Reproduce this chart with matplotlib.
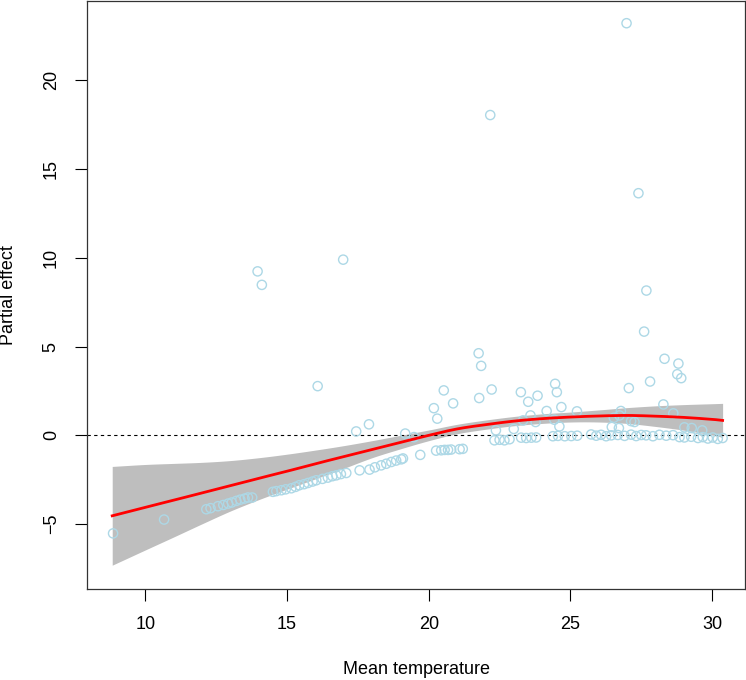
import numpy as np
import matplotlib
matplotlib.use('Agg')
import matplotlib.pyplot as plt

matplotlib.rcParams['font.family'] = ['Liberation Sans', 'DejaVu Sans']

# smooth fit and its confidence band
fit_x = [8.83, 10, 11, 12, 13, 14, 15, 16, 17, 18, 19, 20, 21, 22, 23, 24, 25, 26, 27, 28, 29, 30, 30.37]
fit_y = [-4.53, -4.05, -3.65, -3.24, -2.83, -2.42, -2.02, -1.60, -1.20, -0.80, -0.40, 0.00,
         0.36, 0.60, 0.80, 0.94, 1.03, 1.09, 1.12, 1.08, 1.01, 0.90, 0.84]
band_upper = [-1.75, -1.64, -1.58, -1.52, -1.42, -1.26, -1.06, -0.83, -0.58, -0.30, 0.00, 0.30,
              0.62, 0.86, 1.06, 1.21, 1.31, 1.43, 1.56, 1.66, 1.73, 1.78, 1.80]
band_lower = [-7.31, -6.45, -5.72, -4.98, -4.26, -3.62, -3.03, -2.45, -1.86, -1.26, -0.76, -0.30,
              0.09, 0.34, 0.54, 0.67, 0.75, 0.75, 0.67, 0.50, 0.29, 0.02, -0.12]

# partial residuals
outlier_x = [26.98, 22.17, 27.4, 27.68, 27.6, 13.96, 14.11, 16.98, 16.08]
outlier_y = [23.2, 18.03, 13.63, 8.15, 5.84, 9.23, 8.47, 9.89, 2.77]

mid_x = [21.76, 21.85, 20.53, 20.18, 20.3, 20.86, 21.78, 22.22, 23.25, 23.51, 23.84, 24.46, 24.52,
         24.68, 25.23, 24.16, 23.59, 23.33, 23.77, 24.43, 24.61, 23.0, 22.37, 27.06, 27.81, 28.32,
         28.81, 28.77, 28.91, 28.28, 28.63, 26.78, 26.53, 26.73, 27.14, 27.26, 26.46, 26.71, 29.02,
         29.28, 29.65, 19.48, 19.17, 17.44, 17.89]
mid_y = [4.62, 3.91, 2.53, 1.53, 0.94, 1.8, 2.1, 2.58, 2.43, 1.89, 2.23, 2.9, 2.43,
         1.59, 1.35, 1.37, 1.12, 0.84, 0.75, 0.88, 0.5, 0.36, 0.28, 2.66, 3.03, 4.31,
         4.04, 3.44, 3.22, 1.74, 1.24, 1.37, 0.99, 1.12, 0.8, 0.75, 0.47, 0.41, 0.45,
         0.41, 0.28, -0.1, 0.1, 0.22, 0.62]

low_x = [8.86, 10.66, 12.15, 12.3, 12.56, 12.75, 12.92, 13.05, 13.21, 13.35, 13.5, 13.62, 13.77,
         14.5, 14.62, 14.8, 14.95, 15.15, 15.3, 15.43, 15.6, 15.74, 15.9, 16.03, 16.25, 16.44,
         16.6, 16.74, 16.9, 17.09, 17.56, 17.91, 18.1, 18.32, 18.5, 18.68, 18.85, 19.03, 19.09,
         19.7, 20.26, 20.44, 20.56, 20.68, 20.79, 21.09, 21.2]
low_y = [-5.52, -4.74, -4.16, -4.1, -3.99, -3.92, -3.84, -3.78, -3.69, -3.62, -3.56, -3.5, -3.5,
         -3.18, -3.14, -3.09, -3.04, -2.98, -2.9, -2.81, -2.75, -2.68, -2.6, -2.53, -2.45, -2.38,
         -2.3, -2.25, -2.18, -2.12, -1.97, -1.93, -1.8, -1.69, -1.6, -1.5, -1.42, -1.35, -1.3,
         -1.1, -0.86, -0.84, -0.82, -0.82, -0.8, -0.78, -0.76]

zero_x = [22.32, 22.5, 22.67, 22.85, 23.26, 23.44, 23.62, 23.79, 24.38, 24.56, 24.8, 25.03, 25.24,
          25.73, 25.91, 26.08, 26.26, 26.44, 26.67, 26.91, 27.14, 27.32, 27.5, 27.67, 27.91,
          28.14, 28.38, 28.62, 28.85, 29.02, 29.26, 29.5, 29.67, 29.85, 30.02, 30.2, 30.37]
zero_y = [-0.28, -0.25, -0.28, -0.22, -0.13, -0.15, -0.13, -0.12, -0.05, -0.03, -0.05, -0.04, -0.02,
          0.05, -0.02, 0.03, -0.05, 0.0, 0.02, -0.03, 0.04, -0.04, 0.02, 0.0, -0.05,
          0.03, -0.02, 0.01, -0.1, -0.12, -0.08, -0.15, -0.1, -0.18, -0.12, -0.2, -0.15]

x_ticks = [10, 15, 20, 25, 30]
y_ticks = [-5, 0, 5, 10, 15, 20]


def smooth(xs, ys, n=12):
    # catmull-rom through the read-off knots, just so the curves don't look kinked
    xs = np.asarray(xs, float)
    ys = np.asarray(ys, float)
    px = np.concatenate([[2 * xs[0] - xs[1]], xs, [2 * xs[-1] - xs[-2]]])
    py = np.concatenate([[2 * ys[0] - ys[1]], ys, [2 * ys[-1] - ys[-2]]])
    t = np.linspace(0, 1, n, endpoint=False)
    out_x, out_y = [], []
    for i in range(1, len(px) - 2):
        for p, out in ((px, out_x), (py, out_y)):
            p0, p1, p2, p3 = p[i - 1], p[i], p[i + 1], p[i + 2]
            out.extend(0.5 * (2 * p1 + (-p0 + p2) * t + (2 * p0 - 5 * p1 + 4 * p2 - p3) * t ** 2
                              + (-p0 + 3 * p1 - 3 * p2 + p3) * t ** 3))
    out_x.append(xs[-1])
    out_y.append(ys[-1])
    return np.array(out_x), np.array(out_y)


W, H = 746, 680
fig = plt.figure(figsize=(W / 100, H / 100), dpi=100)
ax = fig.add_axes([87 / W, 1 - 589 / H, (745 - 87) / W, (589 - 1) / H])

sx, su = smooth(fit_x, band_upper)
_, sl = smooth(fit_x, band_lower)
ax.fill_between(sx, sl, su, color='#bebebe', linewidth=0, zorder=1)
ax.axhline(0, color='black', linewidth=0.8, linestyle=(0, (3, 3)), zorder=2)

pts_x = outlier_x + mid_x + low_x + zero_x
pts_y = outlier_y + mid_y + low_y + zero_y
ax.scatter(pts_x, pts_y, s=44, facecolors='none', edgecolors='#add8e6', linewidths=1.0, zorder=3)

fx, fy = smooth(fit_x, fit_y)
ax.plot(fx, fy, color='red', linewidth=2.0, zorder=4)

ax.set_xlim(7.94, 31.16)
ax.set_ylim(-8.65, 24.45)
ax.set_xticks(x_ticks)
ax.set_yticks(y_ticks)
ax.tick_params(direction='out', length=8.6, width=0.8, labelsize=13, pad=11)
for lbl in ax.get_yticklabels():
    lbl.set_rotation(90)
    lbl.set_va('center')
for sp in ax.spines.values():
    sp.set_linewidth(0.9)
    sp.set_color('#333333')

fig.text(416 / W, 1 - 669 / H, 'Mean temperature', ha='center', va='center', fontsize=13)
fig.text(9 / W, 1 - 295 / H, 'Partial effect', ha='center', va='center', rotation=90, fontsize=13)

fig.savefig('out.png', dpi=100)
